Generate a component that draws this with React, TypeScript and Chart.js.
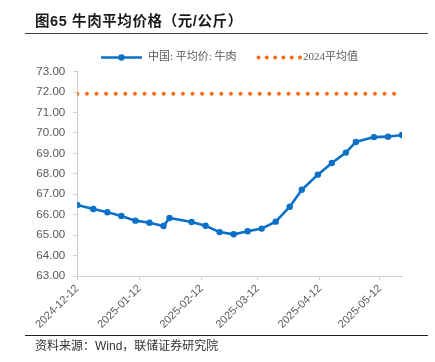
import React, { useEffect, useRef } from "react";
import { Chart, registerables } from "chart.js";

Chart.register(...registerables);

// ---------- data ----------
const dates = [
  "2024-12-12", "2024-12-20", "2024-12-27", "2025-01-03", "2025-01-10", "2025-01-17",
  "2025-01-24", "2025-01-27", "2025-02-07", "2025-02-14", "2025-02-21", "2025-02-28",
  "2025-03-07", "2025-03-14", "2025-03-21", "2025-03-28", "2025-04-03", "2025-04-11",
  "2025-04-18", "2025-04-25", "2025-04-30", "2025-05-09", "2025-05-16", "2025-05-23",
];
const beefPrice = [
  66.48, 66.28, 66.12, 65.94, 65.71, 65.61,
  65.45, 65.84, 65.64, 65.46, 65.15, 65.04,
  65.19, 65.32, 65.66, 66.39, 67.22, 67.96,
  68.53, 69.04, 69.56, 69.80, 69.82, 69.90,
];
const avg2024 = 71.92;
const tickDates = ["2024-12-12", "2025-01-12", "2025-02-12", "2025-03-12", "2025-04-12", "2025-05-12"];
const yMin = 63;
const yMax = 73;
const seriesNames = ["中国: 平均价: 牛肉", "2024平均值"];
const titleText = "图65 牛肉平均价格（元/公斤）";
const sourceText = "资料来源：Wind，联储证券研究院";

// ---------- helpers ----------
const BLUE = "#0a70c8";
const ORANGE = "#ff6a10";
const GRAY = "#595959";
const DAY = 86400000;
const origin = Date.UTC(2024, 11, 12);
const dayOf = (s: string) => {
  const [y, m, d] = s.split("-").map(Number);
  return (Date.UTC(y, m - 1, d) - origin) / DAY;
};

const legendPlugin = {
  id: "customLegend",
  afterDraw(chart: any) {
    const ctx = chart.ctx as CanvasRenderingContext2D;
    const y = 57.5;
    ctx.save();
    ctx.strokeStyle = BLUE;
    ctx.lineWidth = 2.5;
    ctx.beginPath();
    ctx.moveTo(101, y);
    ctx.lineTo(142, y);
    ctx.stroke();
    ctx.fillStyle = BLUE;
    ctx.beginPath();
    ctx.arc(121.5, y, 3.2, 0, Math.PI * 2);
    ctx.fill();
    ctx.font = '11px "Liberation Serif", "Noto Sans CJK SC", serif';
    ctx.fillStyle = GRAY;
    ctx.textBaseline = "middle";
    ctx.textAlign = "left";
    ctx.fillText(seriesNames[0], 148, y);
    ctx.fillStyle = ORANGE;
    for (let i = 0; i < 6; i++) {
      ctx.beginPath();
      ctx.arc(258.5 + i * 8.3, y, 2, 0, Math.PI * 2);
      ctx.fill();
    }
    ctx.fillStyle = GRAY;
    ctx.fillText(seriesNames[1], 303, y);
    ctx.restore();
  },
};

export default function App() {
  const ref = useRef<HTMLCanvasElement | null>(null);

  useEffect(() => {
    if (!ref.current) return;
    const xs = dates.map(dayOf);
    const tickVals = tickDates.map(dayOf);
    const chart = new Chart(ref.current, {
      type: "line",
      data: {
        datasets: [
          {
            label: seriesNames[0],
            data: xs.map((x, i) => ({ x, y: beefPrice[i] })),
            borderColor: BLUE,
            backgroundColor: BLUE,
            borderWidth: 2.6,
            pointRadius: 3.2,
            pointBorderWidth: 0,
            pointBackgroundColor: BLUE,
            tension: 0,
          },
          {
            label: seriesNames[1],
            data: xs.map((x) => ({ x, y: avg2024 })),
            borderColor: ORANGE,
            borderWidth: 4,
            borderDash: [0, 9.6],
            borderCapStyle: "round",
            pointRadius: 0,
            tension: 0,
          },
        ],
      },
      options: {
        animation: false,
        responsive: false,
        events: [],
        layout: { padding: { left: 0, right: 33, top: 71.7, bottom: 0 } },
        plugins: { legend: { display: false }, tooltip: { enabled: false }, title: { display: false } },
        scales: {
          x: {
            type: "linear",
            min: xs[0],
            max: xs[xs.length - 1],
            offset: false,
            afterBuildTicks: (scale: any) => {
              scale.ticks = tickVals.map((v) => ({ value: v }));
            },
            afterFit: (scale: any) => {
              scale.height = 86;
            },
            grid: { drawOnChartArea: false, tickLength: 4, color: "#d0d0d0" },
            border: { color: "#d0d0d0", width: 1 },
            ticks: {
              autoSkip: false,
              minRotation: 45,
              maxRotation: 45,
              padding: 2,
              color: GRAY,
              font: { size: 11, family: '"Liberation Sans", Arial, sans-serif' },
              callback: (v: any) => {
                const i = tickVals.indexOf(Number(v));
                return i >= 0 ? tickDates[i] : "";
              },
            },
          },
          y: {
            min: yMin,
            max: yMax,
            afterFit: (scale: any) => {
              scale.width = 77.3;
            },
            grid: { drawOnChartArea: false, tickLength: 4, color: "#d0d0d0" },
            border: { color: "#d0d0d0", width: 1 },
            ticks: {
              stepSize: 1,
              padding: 8,
              color: GRAY,
              font: { size: 11.6, family: '"Liberation Sans", Arial, sans-serif' },
              callback: (v: any) => Number(v).toFixed(2),
            },
          },
        },
      },
      plugins: [legendPlugin],
    } as any);
    return () => chart.destroy();
  }, []);

  return (
    <div
      style={{
        position: "absolute",
        left: 0,
        top: 0,
        width: 435,
        height: 362,
        background: "#fff",
        overflow: "hidden",
      }}
    >
      <canvas ref={ref} width={435} height={362} style={{ position: "absolute", left: 0, top: 0 }} />
      <div
        style={{
          position: "absolute",
          left: 35,
          top: 12,
          fontFamily: '"Liberation Sans", "Noto Sans CJK SC", sans-serif',
          fontWeight: "bold",
          fontSize: 14.5,
          lineHeight: "18px",
          letterSpacing: "0.6px",
          color: "#1a1a1a",
          whiteSpace: "nowrap",
        }}
      >
        {titleText}
      </div>
      <div style={{ position: "absolute", left: 25, top: 33, width: 403, height: 1, background: "#404040" }} />
      <div style={{ position: "absolute", left: 25, top: 335, width: 403, height: 1, background: "#202020" }} />
      <div
        style={{
          position: "absolute",
          left: 35,
          top: 338,
          fontFamily: '"Liberation Sans", "Noto Sans CJK SC", sans-serif',
          fontSize: 12,
          lineHeight: "16px",
          color: "#333",
          whiteSpace: "nowrap",
        }}
      >
        {sourceText}
      </div>
    </div>
  );
}
